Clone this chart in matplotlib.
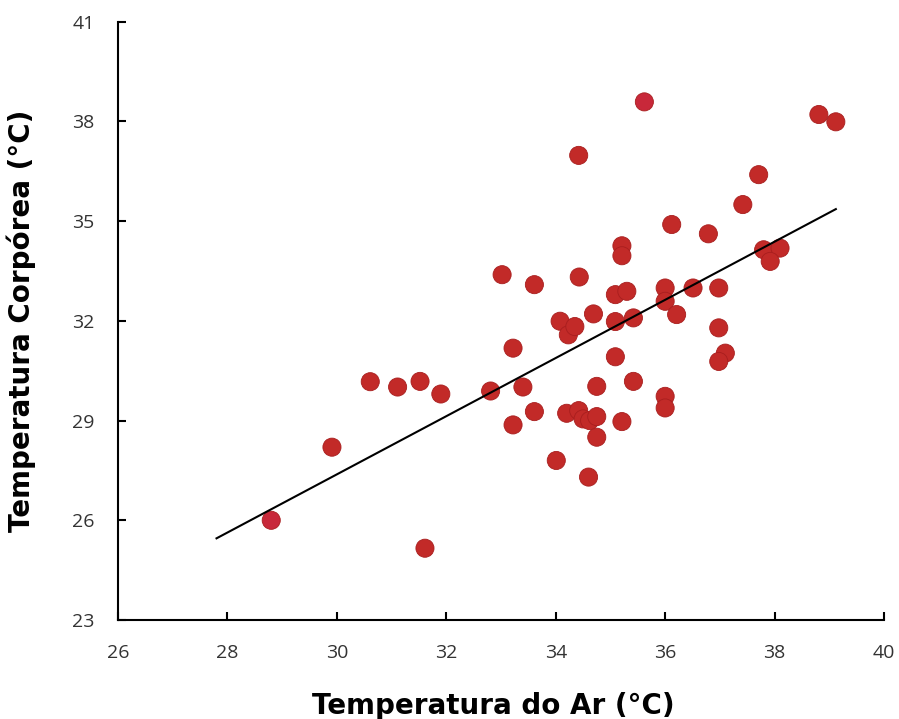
import numpy as np
import matplotlib
matplotlib.use("Agg")
import matplotlib.pyplot as plt

# air temperature (x) vs body temperature (y), degrees C
temp_ar = [28.80, 29.91, 30.61, 31.11, 31.52, 31.90, 31.61, 32.81, 33.02, 33.22,
           33.22, 33.40, 33.61, 33.61, 34.01, 34.08, 34.23, 34.35, 34.42, 34.43,
           34.69, 34.20, 34.42, 34.50, 34.62, 34.75, 34.75, 34.75, 34.60, 35.09,
           35.09, 35.42, 35.42, 35.21, 35.09, 35.30, 35.21, 35.21, 35.62, 36.00,
           36.00, 36.21, 36.00, 36.00, 36.12, 36.51, 36.79, 36.98, 36.98, 37.10,
           36.98, 37.42, 37.71, 37.80, 38.10, 37.92, 38.81, 39.12]
temp_corp = [26.00, 28.20, 30.17, 30.01, 30.18, 29.80, 25.16, 29.89, 33.39, 28.87,
             31.18, 30.01, 29.27, 33.09, 27.80, 31.99, 31.58, 31.83, 36.98, 33.32,
             32.21, 29.22, 29.30, 29.05, 29.00, 29.12, 30.03, 28.50, 27.30, 30.92,
             31.98, 32.09, 30.18, 28.97, 32.79, 32.89, 34.26, 33.96, 38.59, 32.99,
             32.59, 32.19, 29.73, 29.38, 34.90, 32.99, 34.62, 32.99, 31.79, 31.03,
             30.78, 35.50, 36.40, 34.14, 34.19, 33.79, 38.21, 37.99]

x = np.array(temp_ar)
y = np.array(temp_corp)

# point colours: a few are a bit pinker
cores = ['#c8283a' if (xi, yi) in [(28.80, 26.00), (35.62, 38.59)] else '#c22a28'
         for xi, yi in zip(temp_ar, temp_corp)]

fig = plt.figure(figsize=(8.99, 7.19), dpi=100)
ax = fig.add_axes([0.1313, 0.1377, 0.852, 0.832])

ax.scatter(x, y, s=170, c=cores, edgecolors='#a81e1e', linewidths=0.6, zorder=3)

# linear trend, extended one unit back from the lowest x
a, b = np.polyfit(x, y, 1)
xl = np.array([x.min() - 1, x.max()])
ax.plot(xl, a * xl + b, color='black', lw=1.5, zorder=4)

ax.set_xlim(26, 40)
ax.set_ylim(23, 41)
ax.set_xticks(np.arange(26, 41, 2))
ax.set_yticks(np.arange(23, 42, 3))

for s in ['top', 'right']:
    ax.spines[s].set_visible(False)
for s in ['left', 'bottom']:
    ax.spines[s].set_linewidth(1.5)

ax.tick_params(axis='both', direction='in', length=6, width=1.5,
               labelsize=14, colors='black', labelcolor='#333333')
ax.tick_params(axis='x', pad=17)
ax.tick_params(axis='y', pad=17)
for lab in ax.get_xticklabels() + ax.get_yticklabels():
    lab.set_family('Open Sans')

ax.set_xlabel('Temperatura do Ar (°C)', fontsize=20, fontweight='bold',
              family='DejaVu Sans', labelpad=18)
ax.xaxis.set_label_coords(0.49, -0.12)
ax.set_ylabel('Temperatura Corpórea (°C)', fontsize=20, fontweight='bold',
              family='DejaVu Sans', labelpad=26)

fig.savefig('out.png', dpi=100)
